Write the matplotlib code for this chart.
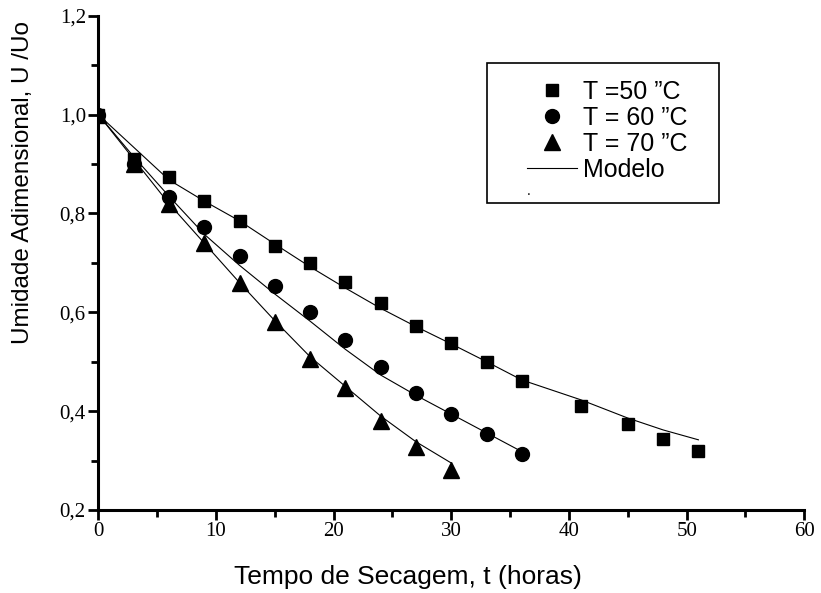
import matplotlib
matplotlib.use("Agg")
import matplotlib.pyplot as plt
from matplotlib.patches import Rectangle
from matplotlib.lines import Line2D

# ---- data ----
t50 = [0, 3, 6, 9, 12, 15, 18, 21, 24, 27, 30, 33, 36, 41, 45, 48, 51]
u50 = [1.0, 0.91, 0.873, 0.826, 0.784, 0.735, 0.70, 0.662, 0.618, 0.573,
       0.537, 0.50, 0.461, 0.41, 0.374, 0.343, 0.319]
t60 = [0, 3, 6, 9, 12, 15, 18, 21, 24, 27, 30, 33, 36]
u60 = [1.0, 0.90, 0.834, 0.772, 0.714, 0.654, 0.60, 0.544, 0.49, 0.436,
       0.394, 0.354, 0.314]
t70 = [0, 3, 6, 9, 12, 15, 18, 21, 24, 27, 30]
u70 = [1.0, 0.90, 0.819, 0.74, 0.659, 0.581, 0.506, 0.446, 0.381, 0.328, 0.281]

# model curves
tm50 = [0, 3, 6, 9, 12, 15, 18, 21, 24, 27, 30, 33, 36, 41, 45, 48, 51]
um50 = [1.0, 0.934, 0.868, 0.825, 0.785, 0.738, 0.692, 0.649, 0.608, 0.571,
        0.536, 0.50, 0.463, 0.423, 0.386, 0.362, 0.342]
tm60 = [0, 3, 6, 9, 12, 15, 18, 21, 24, 27, 30, 33, 36]
um60 = [1.0, 0.915, 0.835, 0.758, 0.695, 0.637, 0.582, 0.525, 0.473, 0.432,
        0.394, 0.356, 0.318]
tm70 = [0, 3, 6, 9, 12, 15, 18, 21, 24, 27, 30]
um70 = [1.0, 0.91, 0.82, 0.74, 0.66, 0.583, 0.51, 0.45, 0.39, 0.338, 0.295]

labels = ["T =50 \u201dC", "T = 60 \u201dC", "T = 70 \u201dC", "Modelo"]
xticks = [0, 10, 20, 30, 40, 50, 60]
yticks = [0.2, 0.4, 0.6, 0.8, 1.0, 1.2]
ytick_labels = ["0,2", "0,4", "0,6", "0,8", "1,0", "1,2"]

W, H = 821, 593
fig = plt.figure(figsize=(W / 100, H / 100), dpi=100)
x0, x1, ytop, ybot = 98.3, 804.3, 15.7, 510.0
ax = fig.add_axes([x0 / W, (H - ybot) / H, (x1 - x0) / W, (ybot - ytop) / H])

lw_model = 0.8
ax.plot(tm50, um50, color="black", lw=lw_model)
ax.plot(tm60, um60, color="black", lw=lw_model)
ax.plot(tm70, um70, color="black", lw=lw_model)
ax.plot(t50, u50, ls="none", marker="s", ms=9, color="black")
ax.plot(t60, u60, ls="none", marker="o", ms=10, color="black")
ax.plot(t70, u70, ls="none", marker="^", ms=11, color="black")

ax.set_xlim(0, 60)
ax.set_ylim(0.2, 1.2)
ax.set_xticks(xticks)
ax.set_xticks([5, 15, 25, 35, 45, 55], minor=True)
ax.set_yticks(yticks)
ax.set_yticks([0.3, 0.5, 0.7, 0.9, 1.1], minor=True)
ax.set_yticklabels(ytick_labels)
for s in ["top", "right"]:
    ax.spines[s].set_visible(False)
for s in ["left", "bottom"]:
    ax.spines[s].set_linewidth(2.2)
ax.tick_params(which="major", direction="out", length=7, width=2, pad=2)
ax.tick_params(which="minor", direction="out", length=5, width=2)
for lab in ax.get_xticklabels() + ax.get_yticklabels():
    lab.set_fontfamily("Liberation Serif")
    lab.set_fontsize(15)

ax.set_xlabel("Tempo de Secagem, t (horas)", fontfamily="Liberation Sans",
              fontsize=19)
ax.xaxis.label.set_va("center")
ax.xaxis.set_label_coords((408 - x0) / (x1 - x0), (ybot - 577) / (ybot - ytop))
ax.set_ylabel("Umidade Adimensional, U /Uo", fontfamily="Liberation Sans",
              fontsize=17.5)
ax.yaxis.label.set_va("center")
ax.yaxis.set_label_coords((23 - x0) / (x1 - x0), (ybot - 183) / (ybot - ytop))

handles = [
    Line2D([], [], ls="none", marker="s", ms=9, color="black"),
    Line2D([], [], ls="none", marker="o", ms=10, color="black"),
    Line2D([], [], ls="none", marker="^", ms=11, color="black"),
    Line2D([], [], color="black", lw=lw_model),
]
fs = 18
fig.legend(handles, labels, loc="upper left",
           bbox_to_anchor=(527 / W, 1 - 80 / H), frameon=False,
           prop={"family": "Liberation Sans", "size": fs},
           borderpad=0, borderaxespad=0, handlelength=50 / (fs * 100 / 72),
           handletextpad=0.25, labelspacing=0.08)
fig.patches.append(Rectangle((487 / W, 1 - 203 / H), (719 - 487) / W, (203 - 63) / H,
                             transform=fig.transFigure, fill=False,
                             edgecolor="black", lw=1.2))
fig.text(529 / W, 1 - 195 / H, ".", fontsize=10, ha="center", va="baseline",
         fontfamily="Liberation Sans")

fig.savefig("out.png", dpi=100)
